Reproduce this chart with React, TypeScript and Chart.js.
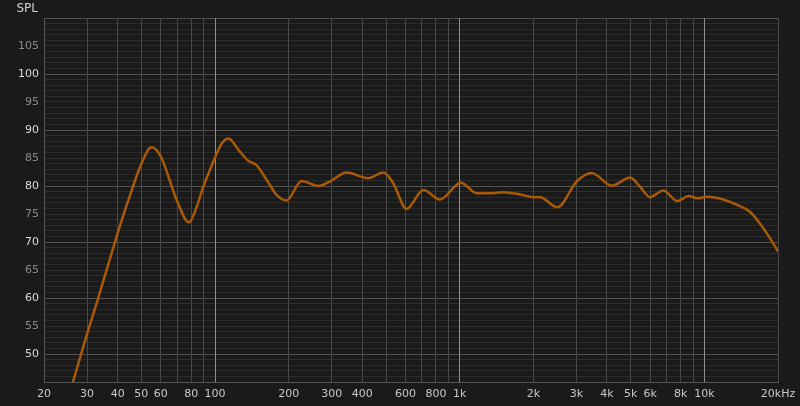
import React, { useEffect, useRef } from 'react';
import { Chart, registerables } from 'chart.js';

Chart.register(...registerables);

const frequencies = [
  25, 30, 33, 38.4, 40, 45, 49.4, 55, 60.5, 65.5, 69.7, 78.3, 84.2, 89.6, 95.4, 100.7,
  106.5, 113.3, 126.5, 136.8, 148, 162.6, 178.6, 196, 226, 264, 295, 345, 423, 487, 535,
  607, 710, 831, 1012, 1173, 1330, 1507, 1765, 2000, 2130, 2507, 3008, 3463, 4190, 4967,
  5458, 5998, 6797, 7752, 8600, 9446, 10222, 11950, 13985, 15360, 16873, 18540, 20000,
];

const splValues = [
  41.8, 53.6, 59.4, 69.0, 71.6, 78.4, 83.4, 86.9, 85.0, 80.8, 77.5, 73.5, 76.3, 79.9, 82.9, 85.4,
  87.6, 88.5, 86.1, 84.5, 83.7, 81.1, 78.4, 77.4, 80.9, 80.0, 80.8, 82.4, 81.4, 82.4, 80.5,
  75.9, 79.3, 77.6, 80.6, 78.7, 78.7, 78.9, 78.5, 78.0, 78.0, 76.2, 80.8, 82.3, 80.05, 81.5,
  79.9, 78.0, 79.2, 77.3, 78.2, 77.8, 78.1, 77.6, 76.4, 75.4, 73.3, 70.7, 68.3,
];

const xTickValues = [
  20, 30, 40, 50, 60, 70, 80, 90, 100, 200, 300, 400, 500, 600, 700, 800, 900, 1000,
  2000, 3000, 4000, 5000, 6000, 7000, 8000, 9000, 10000, 20000,
];
const xTickLabels = [
  '20', '30', '40', '50', '60', '', '80', '', '100', '200', '300', '400', '', '600', '', '800', '', '1k',
  '2k', '3k', '4k', '5k', '6k', '', '8k', '', '10k', '20kHz',
];
const xDecadeLines = [100, 1000, 10000];

const yLabelValues = [50, 55, 60, 65, 70, 75, 80, 85, 90, 95, 100, 105];

const FONT = 'DejaVu Sans';

const titlePlugin = {
  id: 'splTitle',
  afterDraw(chart: any) {
    const c = chart.ctx;
    c.save();
    c.fillStyle = '#d2d2d2';
    c.font = `12px "${FONT}"`;
    c.textBaseline = 'alphabetic';
    c.textAlign = 'left';
    c.fillText('SPL', 16.5, 12);
    c.restore();
  },
};

export default function App() {
  const ref = useRef<HTMLCanvasElement>(null);

  useEffect(() => {
    if (!ref.current) return;
    const chart = new Chart(ref.current, {
      type: 'line',
      data: {
        datasets: [
          {
            data: frequencies.map((f, i) => ({ x: f, y: splValues[i] })),
            borderColor: '#a95a06',
            borderWidth: 2.5,
            pointRadius: 0,
            cubicInterpolationMode: 'monotone',
            fill: false,
          },
        ],
      },
      options: {
        animation: false,
        responsive: false,
        events: [],
        layout: { padding: { top: 18, right: 22, left: 0, bottom: 0 } },
        plugins: {
          legend: { display: false },
          tooltip: { enabled: false },
          title: { display: false },
        },
        scales: {
          x: {
            type: 'logarithmic',
            min: 20,
            max: 20000,
            afterBuildTicks: (s: any) => {
              s.ticks = xTickValues.map((v) => ({ value: v }));
            },
            afterFit: (s: any) => {
              s.height = 24;
              s.paddingLeft = 0;
              s.paddingRight = 0;
            },
            ticks: {
              autoSkip: false,
              maxRotation: 0,
              minRotation: 0,
              padding: 6,
              color: '#c8c8c8',
              font: { family: FONT, size: 11 },
              callback: (v: any) => {
                const i = xTickValues.indexOf(Number(v));
                return i >= 0 ? xTickLabels[i] : '';
              },
            },
            grid: {
              drawTicks: false,
              lineWidth: 1,
              z: -1,
              color: (ctx: any) =>
                ctx.tick && xDecadeLines.includes(ctx.tick.value) ? '#8e8e8e' : '#474747',
            },
            border: { color: '#555555' },
          },
          y: {
            type: 'linear',
            min: 45,
            max: 110,
            afterFit: (s: any) => {
              s.width = 44;
              s.paddingTop = 0;
              s.paddingBottom = 0;
            },
            ticks: {
              stepSize: 1,
              maxTicksLimit: 200,
              autoSkip: false,
              padding: 5,
              font: { family: FONT, size: 11 },
              color: (ctx: any) =>
                ctx.tick && ctx.tick.value % 10 === 0 ? '#dcdcdc' : '#8a8a8a',
              callback: (v: any) => (yLabelValues.includes(Number(v)) ? String(v) : ''),
            },
            grid: {
              drawTicks: false,
              lineWidth: 1,
              z: -2,
              color: (ctx: any) =>
                ctx.tick && ctx.tick.value % 10 === 0 ? '#525252' : '#2c2c2c',
            },
            border: { color: '#555555' },
          },
        },
      },
      plugins: [titlePlugin],
    } as any);
    return () => chart.destroy();
  }, []);

  return (
    <div
      style={{
        position: 'fixed',
        left: 0,
        top: 0,
        width: 800,
        height: 406,
        background: '#1a1a1a',
      }}
    >
      <canvas ref={ref} width={800} height={406} style={{ display: 'block' }} />
    </div>
  );
}
